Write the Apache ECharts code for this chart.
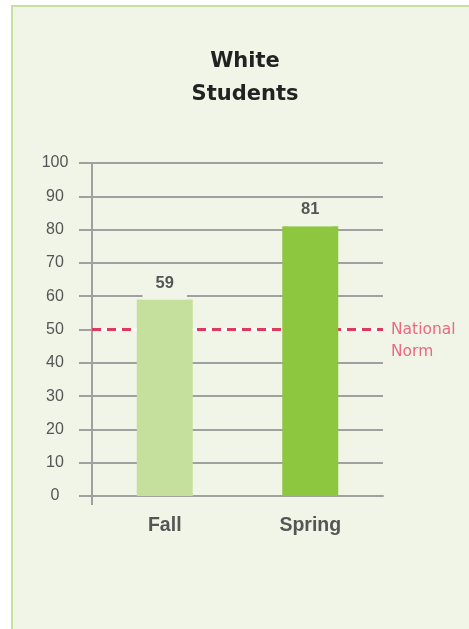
<!DOCTYPE html>
<html><head><meta charset="utf-8">
<script src="https://cdn.jsdelivr.net/npm/echarts@6/dist/echarts.min.js"></script>
<style>html,body{margin:0;padding:0;background:#fff;}#c{width:469px;height:629px;}</style>
</head><body><div id="c"></div>
<script>
const titleText = "White\nStudents";
const categories = ["Fall", "Spring"];
const values = [59, 81];
const barColors = ["#c5e09d", "#8dc63f"];
const normValue = 50;
const normLabel = "National\nNorm";
const yTicks = [0, 100, 10];

const chart = echarts.init(document.getElementById('c'));
const LIB = "'Liberation Sans', Arial, sans-serif";
const DJV = "'DejaVu Sans', sans-serif";
chart.setOption({
  animation: false,
  backgroundColor: 'transparent',
  graphic: [{
    type: 'rect', z: -10, silent: true,
    shape: {x: 12, y: 6, width: 480, height: 640},
    style: {fill: '#f0f5e8', stroke: '#c6e19f', lineWidth: 2}
  }],
  title: {
    text: titleText, left: 240, top: 40, textAlign: 'center',
    textStyle: {fontFamily: DJV, fontSize: 21, fontWeight: 'bold', color: '#222', lineHeight: 33}
  },
  grid: {left: 92, right: 86, top: 163, bottom: 133},
  xAxis: [{
    type: 'category', data: categories,
    axisLine: {show: true, lineStyle: {color: '#a0a0a0', width: 2}},
    axisTick: {show: false},
    axisLabel: {margin: 20, fontFamily: LIB, fontSize: 19.5, fontWeight: 'bold', color: '#555'}
  }, {
    type: 'category', data: ['', ''], position: 'bottom', boundaryGap: false,
    axisLine: {show: false},
    axisTick: {show: true, interval: function(i){return i===0;}, length: 9, lineStyle: {color: '#a0a0a0', width: 2}},
    axisLabel: {show: false}, splitLine: {show: false}
  }],
  yAxis: {
    type: 'value', min: yTicks[0], max: yTicks[1], interval: yTicks[2],
    axisLine: {show: true, lineStyle: {color: '#a0a0a0', width: 2}},
    axisTick: {show: true, length: 13, lineStyle: {color: '#a0a0a0', width: 2}},
    splitLine: {show: true, lineStyle: {color: '#a0a0a0', width: 2}},
    axisLabel: {margin: 37, align: 'center', fontFamily: LIB, fontSize: 16, color: '#555'}
  },
  series: [{
    type: 'line', data: [], z: 1,
    markLine: {
      silent: true, symbol: 'none', z: 1,
      data: [
        {yAxis: normValue, lineStyle: {color: '#ffffff', type: 'solid', width: 3}, label: {show: false}},
        {yAxis: normValue, lineStyle: {color: '#df3a5e', type: [9, 6], width: 3},
          label: {show: true, position: 'end', formatter: normLabel, distance: 8,
            fontFamily: DJV, fontSize: 15.5, color: '#ea6a80', lineHeight: 22, align: 'left',
            offset: [0, 11]}}
      ]
    }
  }, {
    type: 'bar', z: 3, barWidth: 56,
    data: values.map((v, i) => ({value: v, itemStyle: {color: barColors[i]}})),
    label: {
      show: true, position: 'top', distance: 0,
      fontFamily: LIB, fontSize: 16.5, fontWeight: 'bold', color: '#555',
      backgroundColor: '#f0f5e8', padding: [1, 13, 8, 13]
    }
  }]
});
</script></body></html>
